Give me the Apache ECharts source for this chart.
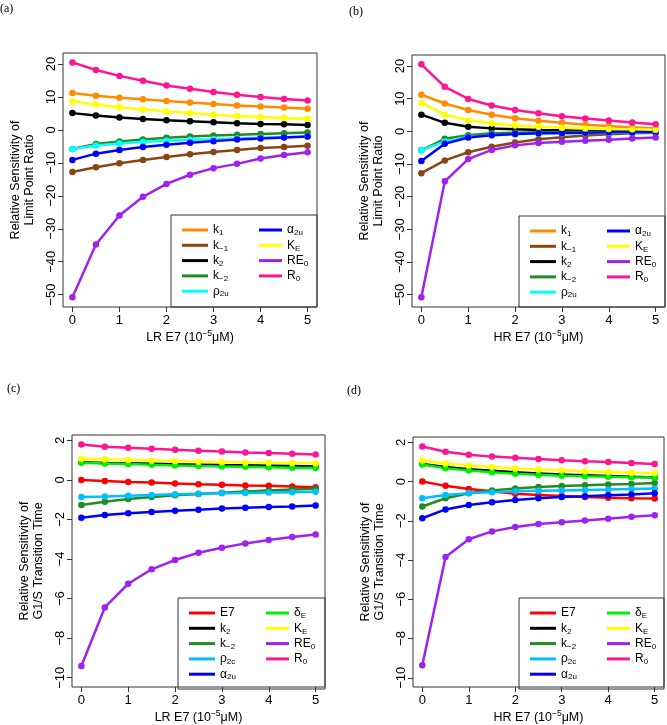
<!DOCTYPE html>
<html>
<head>
<meta charset="utf-8">
<script src="https://cdn.jsdelivr.net/npm/echarts@6/dist/echarts.min.js"></script>
<style>html,body{margin:0;padding:0;background:#fff}#c{width:667px;height:725px}</style>
</head>
<body>
<div id="c"></div>
<script>
// ---- data ----
const xs = [0, 0.5, 1, 1.5, 2, 2.5, 3, 3.5, 4, 4.5, 5];
const xTicks = [0, 1, 2, 3, 4, 5];
const yTicksTop = [-50, -40, -30, -20, -10, 0, 10, 20];
const yTicksBottom = [-10, -8, -6, -4, -2, 0, 2];

// (a) LR E7, limit point ratio
const a_k1    = [11.2, 10.4, 9.8, 9.3, 8.8, 8.3, 7.9, 7.4, 7.1, 6.8, 6.4];
const a_km1   = [-12.8, -11.3, -10.1, -9.1, -8.2, -7.4, -6.7, -6.1, -5.5, -5.2, -4.8];
const a_k2    = [5.1, 4.4, 3.8, 3.3, 2.9, 2.6, 2.3, 2.0, 1.8, 1.7, 1.5];
const a_km2   = [-5.8, -4.3, -3.5, -2.9, -2.4, -2.0, -1.7, -1.5, -1.2, -1.0, -0.8];
const a_rho   = [-5.8, -4.7, -4.1, -3.7, -3.3, -3.0, -2.8, -2.6, -2.4, -2.2, -2.0];
const a_alpha = [-9.1, -7.2, -6.1, -5.2, -4.5, -3.9, -3.4, -2.9, -2.6, -2.3, -2.0];
const a_ke    = [8.6, 7.7, 6.9, 6.2, 5.6, 5.1, 4.6, 4.2, 3.9, 3.6, 3.4];
const a_re0   = [-50.8, -34.8, -26.0, -20.3, -16.4, -13.6, -11.6, -10.3, -8.7, -7.6, -6.8];
const a_r0    = [20.5, 18.2, 16.4, 14.9, 13.5, 12.5, 11.5, 10.7, 10.0, 9.4, 8.9];

// (b) HR E7, limit point ratio
const b_k1    = [11.2, 8.5, 6.5, 5.1, 4.0, 3.2, 2.6, 2.0, 1.6, 1.2, 0.9];
const b_km1   = [-12.8, -8.9, -6.4, -4.7, -3.4, -2.4, -1.8, -1.3, -0.9, -0.6, -0.4];
const b_k2    = [5.1, 2.6, 1.4, 0.9, 0.6, 0.4, 0.3, 0.2, 0.2, 0.1, 0.1];
const b_km2   = [-5.8, -2.3, -1.2, -0.6, -0.4, -0.3, -0.2, -0.2, -0.1, -0.1, -0.1];
const b_rho   = [-5.8, -3.1, -1.7, -1.2, -0.9, -0.7, -0.6, -0.5, -0.4, -0.4, -0.3];
const b_alpha = [-9.1, -3.8, -1.9, -1.2, -0.8, -0.6, -0.5, -0.4, -0.3, -0.3, -0.2];
const b_ke    = [8.7, 5.1, 3.4, 2.4, 1.8, 1.4, 1.1, 0.9, 0.7, 0.6, 0.5];
const b_re0   = [-50.8, -15.3, -8.5, -5.7, -4.3, -3.6, -3.2, -2.9, -2.6, -2.2, -1.9];
const b_r0    = [20.5, 13.6, 9.9, 7.9, 6.5, 5.5, 4.6, 3.9, 3.3, 2.7, 2.2];

// (c) LR E7, G1/S transition time
const c_e7    = [0, -0.05, -0.1, -0.13, -0.18, -0.22, -0.25, -0.28, -0.3, -0.33, -0.37];
const c_k2    = [0.89, 0.86, 0.84, 0.82, 0.79, 0.77, 0.75, 0.74, 0.72, 0.70, 0.68];
const c_km2   = [-1.27, -1.1, -0.97, -0.86, -0.78, -0.71, -0.65, -0.59, -0.54, -0.49, -0.45];
const c_rho   = [-0.87, -0.84, -0.8, -0.76, -0.73, -0.7, -0.68, -0.66, -0.64, -0.62, -0.6];
const c_alpha = [-1.91, -1.77, -1.69, -1.62, -1.56, -1.51, -1.45, -1.41, -1.37, -1.34, -1.3];
const c_de    = [0.87, 0.83, 0.8, 0.76, 0.73, 0.7, 0.68, 0.66, 0.64, 0.62, 0.6];
const c_ke    = [1.07, 1.04, 1.01, 0.98, 0.95, 0.92, 0.9, 0.88, 0.87, 0.85, 0.84];
const c_re0   = [-9.41, -6.45, -5.25, -4.52, -4.05, -3.68, -3.43, -3.21, -3.04, -2.89, -2.76];
const c_r0    = [1.79, 1.68, 1.62, 1.57, 1.52, 1.47, 1.43, 1.39, 1.36, 1.32, 1.29];

// (d) HR E7, G1/S transition time
const d_e7    = [0, -0.22, -0.38, -0.5, -0.62, -0.69, -0.74, -0.79, -0.82, -0.85, -0.87];
const d_k2    = [0.9, 0.74, 0.63, 0.55, 0.47, 0.41, 0.36, 0.32, 0.28, 0.24, 0.21];
const d_km2   = [-1.27, -0.85, -0.6, -0.45, -0.35, -0.28, -0.23, -0.19, -0.15, -0.12, -0.08];
const d_rho   = [-0.85, -0.68, -0.59, -0.54, -0.5, -0.47, -0.45, -0.43, -0.41, -0.38, -0.35];
const d_alpha = [-1.87, -1.42, -1.2, -1.05, -0.94, -0.85, -0.79, -0.75, -0.7, -0.66, -0.6];
const d_de    = [0.87, 0.68, 0.56, 0.47, 0.4, 0.35, 0.3, 0.27, 0.25, 0.22, 0.2];
const d_ke    = [1.07, 0.92, 0.82, 0.74, 0.67, 0.62, 0.57, 0.52, 0.49, 0.45, 0.43];
const d_re0   = [-9.36, -3.85, -2.94, -2.54, -2.32, -2.16, -2.07, -1.99, -1.89, -1.8, -1.72];
const d_r0    = [1.79, 1.52, 1.36, 1.27, 1.21, 1.15, 1.09, 1.04, 1.0, 0.94, 0.89];

// ---- styling ----
const FONT = 'Liberation Sans, Arial, Helvetica, sans-serif';
const colors = {
  'k1': '#FF8C00', 'k-1': '#8B4513', 'k2': '#000000', 'k-2': '#228B22',
  'rho2u': '#00FFFF', 'rho2c': '#00BFFF', 'alpha2u': '#0000FF', 'KE': '#FFFF00',
  'RE0': '#A020F0', 'R0': '#FF1493', 'E7': '#FF0000', 'deltaE': '#00EE00'
};
const labels = {
  'k1': 'k{s|1}', 'k-1': 'k{s|\u22121}', 'k2': 'k{s|2}', 'k-2': 'k{s|\u22122}',
  'rho2u': '\u03c1{s|2u}', 'rho2c': '\u03c1{s|2c}', 'alpha2u': '\u03b1{s|2u}', 'KE': 'K{s|E}',
  'RE0': 'RE{s|0}', 'R0': 'R{s|0}', 'E7': 'E7', 'deltaE': '\u03b4{s|E}'
};

const panels = [
  { tag: '(a)', tagPos: [0, 3], grid: {left: 63, top: 53, width: 254, height: 254},
    ymin: -53.75, ymax: 23.35, yticks: yTicksTop, xname: 'LR', yname: 'Relative Sensitivity of\nLimit Point Ratio',
    frame: [171, 215, 146, 92],
    col1: ['k1', 'k-1', 'k2', 'k-2', 'rho2u'], col2: ['alpha2u', 'KE', 'RE0', 'R0'],
    vals: {'k1': a_k1, 'k-1': a_km1, 'k2': a_k2, 'k-2': a_km2, 'rho2u': a_rho, 'alpha2u': a_alpha, 'KE': a_ke, 'RE0': a_re0, 'R0': a_r0} },
  { tag: '(b)', tagPos: [349, 6], grid: {left: 412, top: 55, width: 253, height: 252},
    ymin: -53.75, ymax: 23.35, yticks: yTicksTop, xname: 'HR', yname: 'Relative Sensitivity of\nLimit Point Ratio',
    frame: [519, 216, 146, 91],
    col1: ['k1', 'k-1', 'k2', 'k-2', 'rho2u'], col2: ['alpha2u', 'KE', 'RE0', 'R0'],
    vals: {'k1': b_k1, 'k-1': b_km1, 'k2': b_k2, 'k-2': b_km2, 'rho2u': b_rho, 'alpha2u': b_alpha, 'KE': b_ke, 'RE0': b_re0, 'R0': b_r0} },
  { tag: '(c)', tagPos: [7, 383], grid: {left: 72, top: 435, width: 253, height: 254},
    ymin: -10.47, ymax: 2.27, yticks: yTicksBottom, xname: 'LR', yname: 'Relative Sensitivity of\nG1/S Transition Time',
    frame: [178, 598, 147, 91],
    col1: ['E7', 'k2', 'k-2', 'rho2c', 'alpha2u'], col2: ['deltaE', 'KE', 'RE0', 'R0'],
    vals: {'E7': c_e7, 'k2': c_k2, 'k-2': c_km2, 'rho2c': c_rho, 'alpha2u': c_alpha, 'deltaE': c_de, 'KE': c_ke, 'RE0': c_re0, 'R0': c_r0} },
  { tag: '(d)', tagPos: [347, 385], grid: {left: 413, top: 437, width: 251, height: 252},
    ymin: -10.47, ymax: 2.27, yticks: yTicksBottom, xname: 'HR', yname: 'Relative Sensitivity of\nG1/S Transition Time',
    frame: [519, 598, 145, 91],
    col1: ['E7', 'k2', 'k-2', 'rho2c', 'alpha2u'], col2: ['deltaE', 'KE', 'RE0', 'R0'],
    vals: {'E7': d_e7, 'k2': d_k2, 'k-2': d_km2, 'rho2c': d_rho, 'alpha2u': d_alpha, 'deltaE': d_de, 'KE': d_ke, 'RE0': d_re0, 'R0': d_r0} }
];

const option = { animation: false, grid: [], xAxis: [], yAxis: [], series: [], legend: [], graphic: [] };
const legendText = {
  fontFamily: FONT, fontSize: 12, color: '#000', lineHeight: 14,
  rich: { s: { fontFamily: FONT, fontSize: 8, color: '#000', padding: [6, 0, 0, 0], lineHeight: 10 } }
};
const fmtMinus = v => String(v).replace('-', '\u2212');

panels.forEach((p, i) => {
  option.grid.push(Object.assign({ show: true, borderColor: '#333', borderWidth: 1, backgroundColor: 'transparent' }, p.grid));
  option.xAxis.push({
    type: 'value', gridIndex: i, min: -0.2, max: 5.2, position: 'bottom',
    name: '{n|' + p.xname + ' E7 (10}{p|\u22125}{n|\u03bcM)}', nameLocation: 'middle', nameGap: 22,
    nameTextStyle: { rich: { n: { fontFamily: FONT, fontSize: 12.5, color: '#000' }, p: { fontFamily: FONT, fontSize: 8.5, color: '#000', padding: [0, 0, 8, 0] } } },
    axisLine: { show: false, onZero: false }, splitLine: { show: false },
    axisTick: { show: true, length: 5, lineStyle: { color: '#333' }, customValues: xTicks },
    axisLabel: { fontFamily: FONT, fontSize: 13, color: '#000', margin: 7, customValues: xTicks }
  });
  option.yAxis.push({
    type: 'value', gridIndex: i, min: p.ymin, max: p.ymax, position: 'left',
    name: p.yname, nameLocation: 'middle', nameRotate: 90, nameGap: 26,
    nameTextStyle: { fontFamily: FONT, fontSize: 12.5, color: '#000', lineHeight: 14 },
    axisLine: { show: false, onZero: false }, splitLine: { show: false },
    axisTick: { show: true, length: 5, lineStyle: { color: '#333' }, customValues: p.yticks },
    axisLabel: { fontFamily: FONT, fontSize: 13, color: '#000', margin: 5, rotate: 90, customValues: p.yticks, formatter: fmtMinus }
  });
  const order = p.col1.concat(p.col2);
  order.forEach(key => {
    const v = p.vals[key];
    option.series.push({
      type: 'line', name: key, xAxisIndex: i, yAxisIndex: i,
      data: xs.map((x, j) => [x, v[j]]),
      symbol: 'circle', symbolSize: 6.5, showSymbol: true,
      lineStyle: { width: 2.5, color: colors[key] }, itemStyle: { color: colors[key] },
      emphasis: { disabled: true }, silent: true
    });
  });
  const [fx, fy, fw, fh] = p.frame;
  option.graphic.push({ type: 'rect', shape: { x: fx, y: fy, width: fw, height: fh }, style: { fill: 'none', stroke: '#333', lineWidth: 1 }, silent: true });
  option.graphic.push({ type: 'text', left: p.tagPos[0], top: p.tagPos[1], style: { text: p.tag, font: '12px "Liberation Serif", serif', fill: '#000' } });
  const mkLegend = (names, left, w) => ({
    orient: 'vertical', left: left, top: fy + 8, itemGap: 1.3, itemWidth: w, itemHeight: 3, icon: 'rect',
    padding: 0, selectedMode: false, data: names, textStyle: legendText,
    formatter: name => labels[name]
  });
  option.legend.push(mkLegend(p.col1, fx + 11, 26));
  option.legend.push(mkLegend(p.col2, fx + 88, 23));
});

const chart = echarts.init(document.getElementById('c'), null, { renderer: 'canvas' });
chart.setOption(option);
</script>
</body>
</html>
